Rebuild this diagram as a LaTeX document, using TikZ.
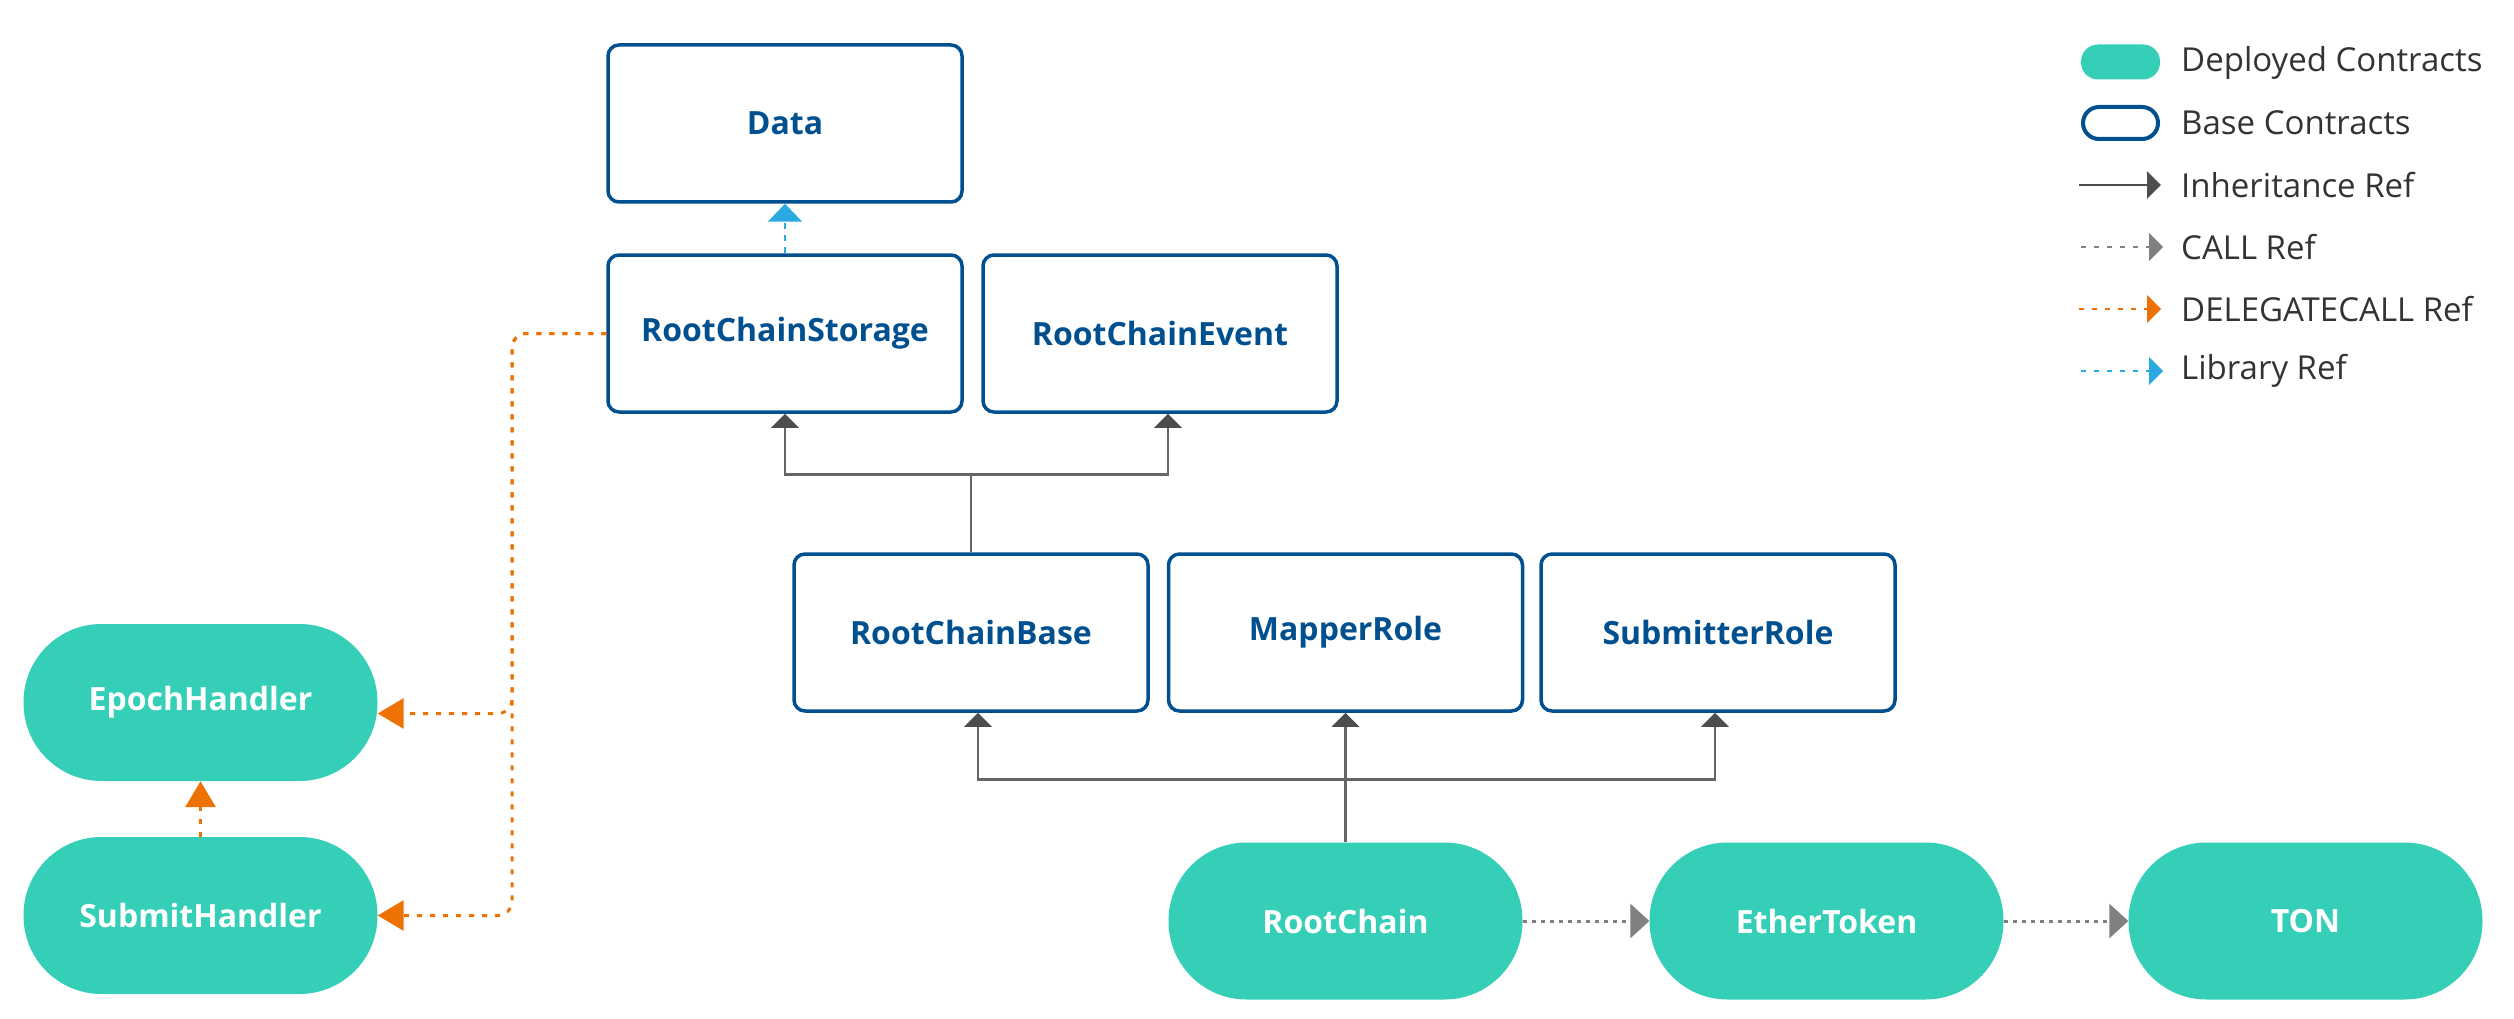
\documentclass[tikz,border=0pt]{standalone}
\usepackage{fontspec}
\setmainfont{Open Sans}
\usetikzlibrary{arrows.meta}

\definecolor{deployed}{HTML}{34CFB6}
\definecolor{baseblue}{HTML}{00508F}
\definecolor{linegray}{HTML}{666666}
\definecolor{tipgray}{HTML}{4D4D4D}
\definecolor{callgray}{HTML}{808080}
\definecolor{delegorange}{HTML}{EE7203}
\definecolor{libblue}{HTML}{29ABE2}
\definecolor{legendtext}{HTML}{333333}

\begin{document}
\begin{tikzpicture}[x=1pt, y=-1pt,
    basebox/.style={draw=baseblue, line width=3.5pt, rounded corners=11pt, minimum width=354pt, minimum height=157pt, text=baseblue, font=\fontsize{32}{38}\selectfont\bfseries},
    deploybox/.style={fill=deployed, rounded corners=78pt, minimum width=354pt, minimum height=157pt, text=white, font=\fontsize{32}{38}\selectfont\bfseries},
    inherit/.style={draw=linegray, line width=2.5pt, -{Triangle[length=14pt, width=27pt, color=tipgray]}},
    callref/.style={draw=callgray, line width=3pt, dash pattern=on 4pt off 5pt, -{Triangle[length=19pt, width=34pt]}},
    delegref/.style={draw=delegorange, line width=3pt, dash pattern=on 5pt off 8pt, rounded corners=14pt, -{Triangle[length=26pt, width=30pt]}},
    libref/.style={draw=libblue, line width=2.5pt, dash pattern=on 6pt off 6pt, -{Triangle[length=18pt, width=34pt]}},
    legendlabel/.style={anchor=west, inner sep=0pt, text=legendtext, font=\fontsize{33}{38}\selectfont}
]
    \useasboundingbox (0, 0) rectangle (2514, 1019);

    \node [basebox] (data) at (785, 123.5) {Data};
    \node [basebox] (storage) at (785, 333.5) {RootChainStorage};
    \node [basebox] (event) at (1160, 333.5) {RootChainEvent};
    \node [basebox] (base) at (971, 632.5) {RootChainBase};
    \node [basebox] (mapper) at (1345.5, 632.5) {MapperRole};
    \node [basebox] (submitter) at (1718, 632.5) {SubmitterRole};

    \node [deploybox] (epoch) at (200.5, 702.5) {EpochHandler};
    \node [deploybox] (submit) at (200.5, 915.5) {SubmitHandler};
    \node [deploybox] (rootchain) at (1345.5, 921) {RootChain};
    \node [deploybox] (ether) at (1826.5, 921) {EtherToken};
    \node [deploybox] (ton) at (2305.5, 921) {TON};

    \draw [libref] (storage.north) -- (data.south);

    \path (base.north) ++(0, -78) coordinate (topjoin);
    \draw [draw=linegray, line width=2.5pt] (base.north) -- (topjoin);
    \draw [inherit] (topjoin) -| (storage.south);
    \draw [inherit] (topjoin) -| ([xshift=8pt]event.south);

    \path (rootchain.north) ++(0, -63) coordinate (lowjoin);
    \draw [inherit] (rootchain.north) -- (mapper.south);
    \draw [inherit] (lowjoin) -| ([xshift=7pt]base.south);
    \draw [inherit] (lowjoin) -| ([xshift=-3pt]submitter.south);

    \draw [callref] (rootchain.east) -- (ether.west);
    \draw [callref] (ether.east) -- (ton.west);

    \coordinate (bus) at (512, 0);
    \coordinate (epochin) at ([yshift=-11pt]epoch.east);
    \draw [delegref] (storage.west) -| (bus |- epochin) -- (epochin);
    \draw [delegref] (storage.west) -| (bus |- submit.east) -- (submit.east);
    \draw [delegref] (submit.north) -- (epoch.south);

    \node [fill=deployed, rounded corners=17pt, minimum width=79pt, minimum height=35pt] (lgdeployed) at (2120.5, 62) {};
    \node [draw=baseblue, line width=4pt, rounded corners=16pt, minimum width=75pt, minimum height=32pt] (lgbase) at (2120.5, 123) {};
    \node [legendlabel] at (2181, 62.5) {Deployed Contracts};
    \node [legendlabel] at (2181, 123) {Base Contracts};
    \node [legendlabel] at (2181, 185) {Inheritance Ref};
    \node [legendlabel] at (2181, 247) {CALL Ref};
    \node [legendlabel] at (2181, 309) {DELEGATECALL Ref};
    \node [legendlabel] at (2181, 371) {Library Ref};

    \coordinate (inhfrom) at (2079, 185);
    \coordinate (inhto) at (2161, 185);
    \coordinate (callfrom) at (2081, 247);
    \coordinate (callto) at (2163, 247);
    \coordinate (delegfrom) at (2079, 309);
    \coordinate (delegto) at (2161, 309);
    \coordinate (libfrom) at (2081, 371);
    \coordinate (libto) at (2163, 371);
    \draw [draw=tipgray, line width=2.7pt, -{Triangle[length=14pt, width=27pt]}] (inhfrom) -- (inhto);
    \draw [draw=callgray, line width=2pt, dash pattern=on 5pt off 8pt, -{Triangle[length=14pt, width=28pt]}] (callfrom) -- (callto);
    \draw [draw=delegorange, line width=2pt, dash pattern=on 5pt off 8pt, -{Triangle[length=14pt, width=28pt]}] (delegfrom) -- (delegto);
    \draw [draw=libblue, line width=2pt, dash pattern=on 5pt off 8pt, -{Triangle[length=14pt, width=28pt]}] (libfrom) -- (libto);
\end{tikzpicture}
\end{document}
